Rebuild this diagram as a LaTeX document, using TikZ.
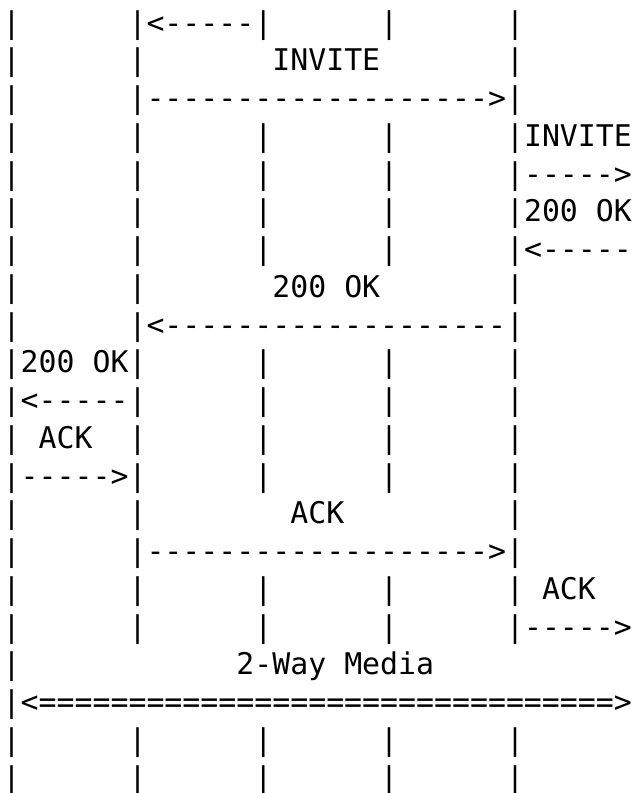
\documentclass[tikz,border=0pt]{standalone}
\usepackage{fontspec}
\setmonofont{DejaVu Sans Mono}
\begin{document}
\begin{tikzpicture}[x=1pt,y=1pt,
  txt/.style={anchor=base west, inner sep=0pt, outer sep=0pt,
    font=\ttfamily\fontsize{29.86pt}{37.76pt}\selectfont}]
\fill[white] (0,0) rectangle (635,-793);
\useasboundingbox (0,0) rectangle (635,-793);
\def\lx{2.7}
\node[txt] (r1)  at (\lx,-33-0*37.76)  {|~~~~~~|<-----|~~~~~~|~~~~~~|};
\node[txt] (r2)  at (\lx,-33-1*37.76)  {|~~~~~~|~~~~~~~INVITE~~~~~~~|};
\node[txt] (r3)  at (\lx,-33-2*37.76)  {|~~~~~~|------------------->|};
\node[txt] (r4)  at (\lx,-33-3*37.76)  {|~~~~~~|~~~~~~|~~~~~~|~~~~~~|INVITE};
\node[txt] (r5)  at (\lx,-33-4*37.76)  {|~~~~~~|~~~~~~|~~~~~~|~~~~~~|----->};
\node[txt] (r6)  at (\lx,-33-5*37.76)  {|~~~~~~|~~~~~~|~~~~~~|~~~~~~|200~OK};
\node[txt] (r7)  at (\lx,-33-6*37.76)  {|~~~~~~|~~~~~~|~~~~~~|~~~~~~|<-----};
\node[txt] (r8)  at (\lx,-33-7*37.76)  {|~~~~~~|~~~~~~~200~OK~~~~~~~|};
\node[txt] (r9)  at (\lx,-33-8*37.76)  {|~~~~~~|<-------------------|};
\node[txt] (r10) at (\lx,-33-9*37.76)  {|200~OK|~~~~~~|~~~~~~|~~~~~~|};
\node[txt] (r11) at (\lx,-33-10*37.76) {|<-----|~~~~~~|~~~~~~|~~~~~~|};
\node[txt] (r12) at (\lx,-33-11*37.76) {|~ACK~~|~~~~~~|~~~~~~|~~~~~~|};
\node[txt] (r13) at (\lx,-33-12*37.76) {|----->|~~~~~~|~~~~~~|~~~~~~|};
\node[txt] (r14) at (\lx,-33-13*37.76) {|~~~~~~|~~~~~~~~ACK~~~~~~~~~|};
\node[txt] (r15) at (\lx,-33-14*37.76) {|~~~~~~|------------------->|};
\node[txt] (r16) at (\lx,-33-15*37.76) {|~~~~~~|~~~~~~|~~~~~~|~~~~~~|~ACK};
\node[txt] (r17) at (\lx,-33-16*37.76) {|~~~~~~|~~~~~~|~~~~~~|~~~~~~|----->};
\node[txt] (r18) at (\lx,-33-17*37.76) {|~~~~~~~~~~~~2-Way~Media};
\node[txt] (r19) at (\lx,-33-18*37.76) {|<================================>};
\node[txt] (r20) at (\lx,-33-19*37.76) {|~~~~~~|~~~~~~|~~~~~~|~~~~~~|};
\node[txt] (r21) at (\lx,-33-20*37.76) {|~~~~~~|~~~~~~|~~~~~~|~~~~~~|};
\end{tikzpicture}
\end{document}
